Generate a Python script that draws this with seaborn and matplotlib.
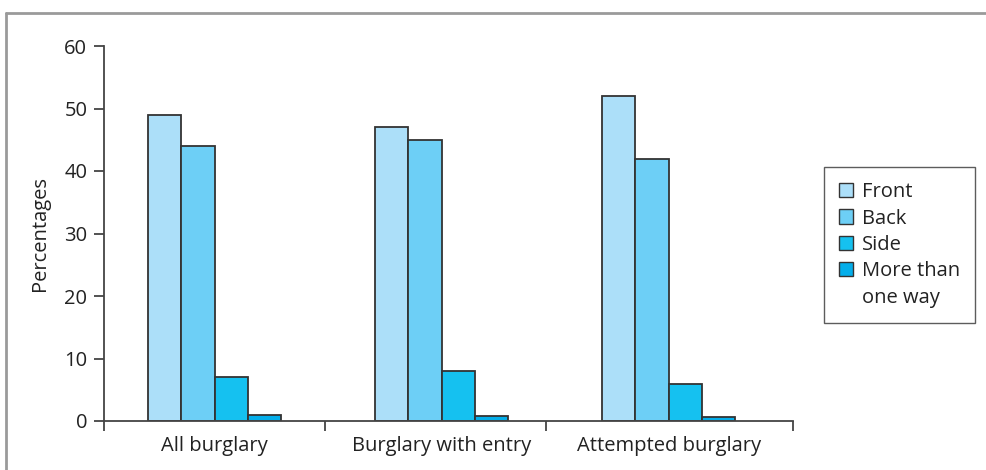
import matplotlib
matplotlib.use("Agg")
import matplotlib.pyplot as plt
from matplotlib.lines import Line2D
import seaborn as sns
import pandas as pd

categories = ["All burglary", "Burglary with entry", "Attempted burglary"]
series = ["Front", "Back", "Side", "More than one way"]
legend_labels = ["Front", "Back", "Side", "More than", "one way"]
front = [49, 47, 52]
back = [44, 45, 42]
side = [7, 8, 6]
more = [1, 0.8, 0.7]
colors = ["#acdff9", "#6dcff6", "#15c1f0", "#04aeea"]

rows = []
for name, vals in zip(series, [front, back, side, more]):
    for c, v in zip(categories, vals):
        rows.append({"Category": c, "Entry": name, "Value": v})
df = pd.DataFrame(rows)

sns.set_theme(style="white")
plt.rcParams["font.family"] = ["Open Sans", "DejaVu Sans"]
FS = 14.5

W, H = 986, 470
fig = plt.figure(figsize=(W / 100, H / 100), dpi=100)
ax = fig.add_axes([104 / W, 1 - 421 / H, (793 - 104) / W, (421 - 46) / H])

sns.barplot(data=df, x="Category", y="Value", hue="Entry", order=categories,
            hue_order=series, palette=colors, width=0.586, ax=ax,
            edgecolor="#333333", linewidth=1.3, saturation=1, errorbar=None,
            legend=False)

ax.set_xlim(-0.487, 2.548)
ax.set_ylim(0, 60)
ax.set_yticks(range(0, 61, 10))
ax.tick_params(axis="y", labelsize=FS, length=7, width=1.3, color="#444444",
               pad=5, left=True, labelcolor="#222222")
ax.set_xticks([0, 1, 2])
ax.set_xticklabels(categories)
ax.tick_params(axis="x", labelsize=FS, length=0, pad=11, labelcolor="#222222")
ax.set_xticks([-0.487, 0.487, 1.46, 2.548], minor=True)
ax.tick_params(axis="x", which="minor", length=7, width=1.3, color="#444444",
               bottom=True, direction="out")
ax.set_xlabel("")
ax.set_ylabel("Percentages", fontsize=FS, color="#222222", labelpad=10)
for s in ["top", "right"]:
    ax.spines[s].set_visible(False)
for s in ["left", "bottom"]:
    ax.spines[s].set_color("#444444")
    ax.spines[s].set_linewidth(1.3)

handles = [plt.Rectangle((0, 0), 1, 1, facecolor=c, edgecolor="#333333", linewidth=1.0)
           for c in colors]
handles.append(plt.Rectangle((0, 0), 1, 1, facecolor="none", edgecolor="none"))
leg = fig.legend(handles, legend_labels, loc="upper left",
                 bbox_to_anchor=(824 / W, 1 - 167 / H), bbox_transform=fig.transFigure,
                 borderaxespad=0, frameon=True,
                 fontsize=FS, handlelength=0.7, handleheight=0.7,
                 handletextpad=0.45, labelspacing=0.32, borderpad=0.75,
                 fancybox=False, edgecolor="#333333")
leg.get_frame().set_linewidth(1.0)
for t in leg.get_texts():
    t.set_color("#222222")

fig.add_artist(Line2D([6 / W, 6 / W], [0, 1 - 13 / H], transform=fig.transFigure,
                      color="#9a9a9a", linewidth=2))
fig.add_artist(Line2D([6 / W, 1], [1 - 13 / H, 1 - 13 / H], transform=fig.transFigure,
                      color="#9a9a9a", linewidth=2))

fig.savefig("out.png", dpi=100)
